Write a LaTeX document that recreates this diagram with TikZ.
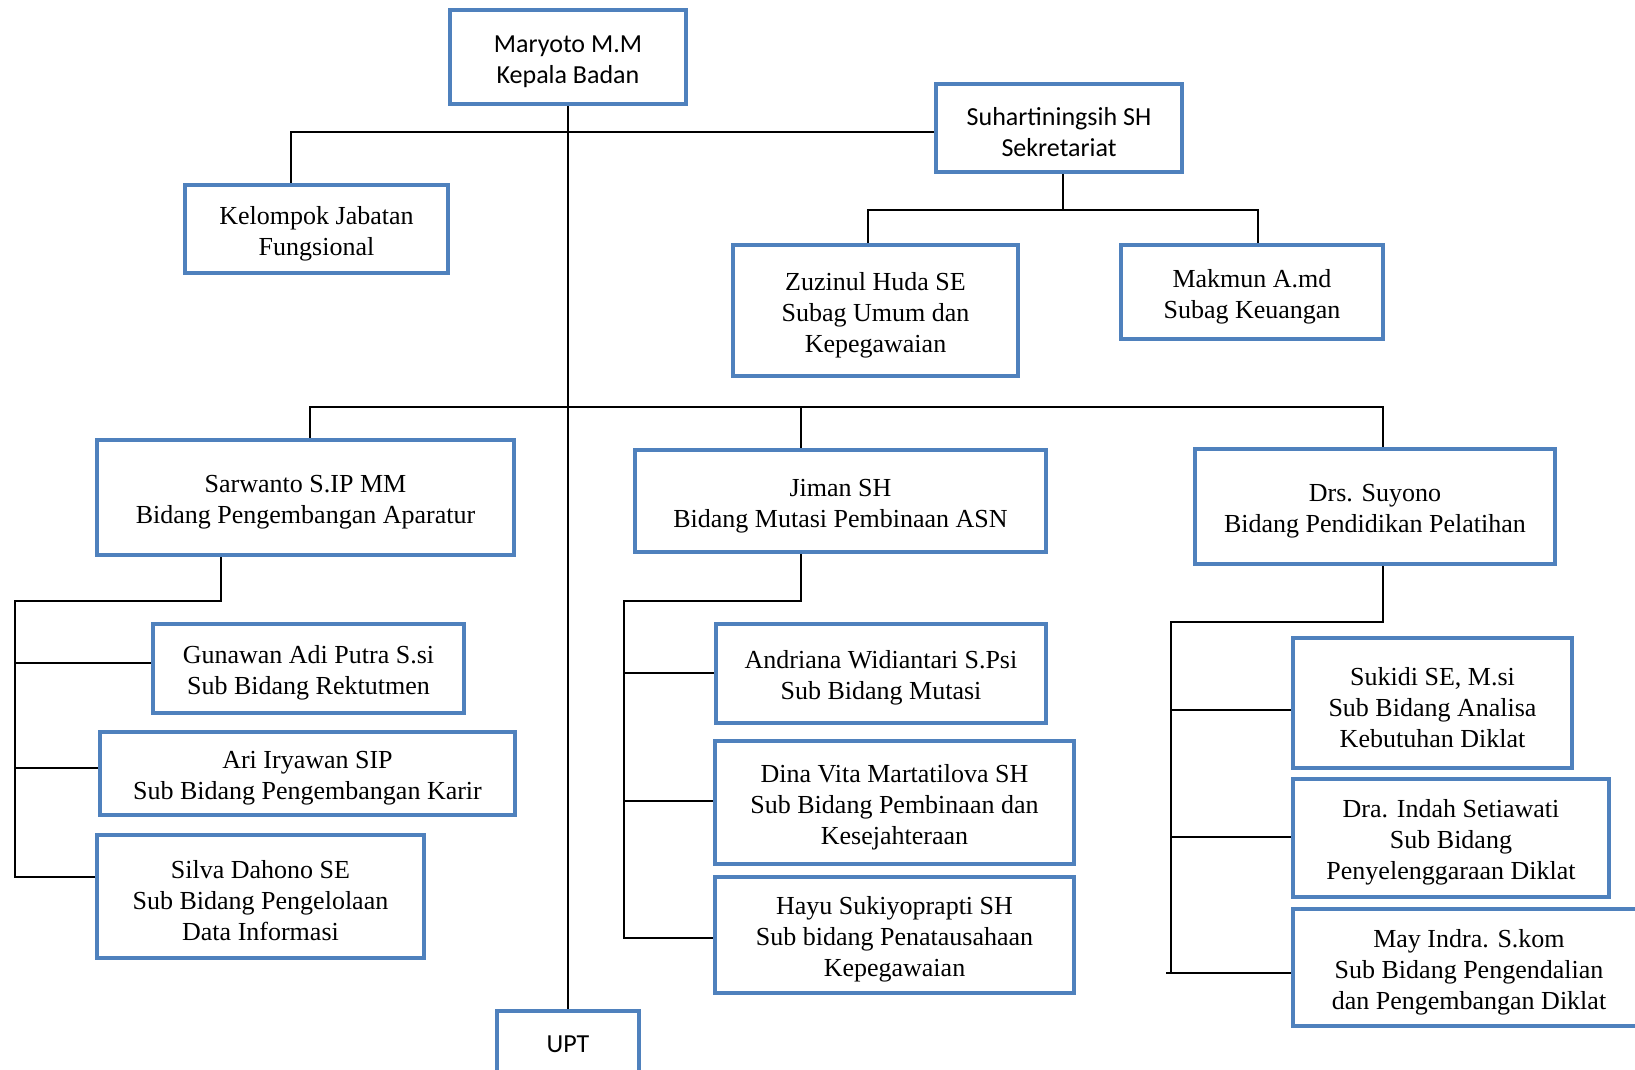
\documentclass[tikz,border=0pt]{standalone}
\usepackage{fontspec}
\setmainfont{Liberation Serif}
\newfontfamily\carlito{Carlito}
\definecolor{boxblue}{HTML}{4F81BD}
\newcommand{\tstrut}{\rule{0pt}{27pt}}
\begin{document}
\begin{tikzpicture}[x=1pt,y=-1pt,
  box/.style={draw=boxblue, line width=4.8pt, fill=white, align=center, inner sep=0pt,
    font=\fontsize{26}{31}\selectfont},
  cbox/.style={box, font=\carlito\fontsize{26}{31}\selectfont},
  conn/.style={line width=2pt, black}]
\clip (0,0) rectangle (1635,1069);
\fill[white] (0,0) rectangle (1635,1069);
% boxes
\node[cbox, minimum width=236pt, minimum height=94pt] (kepala) at (568,57) {\tstrut Maryoto M.M\\Kepala Badan};
\node[box, minimum width=263pt, minimum height=88pt] (kel) at (316.5,229) {\tstrut Kelompok Jabatan\\Fungsional};
\node[cbox, minimum width=246pt, minimum height=88pt] (sek) at (1059,128) {\tstrut Suhartiningsih SH\\Sekretariat};
\node[box, minimum width=285pt, minimum height=131pt] (zuz) at (875.5,310.5) {\tstrut Zuzinul Huda SE\\Subag Umum dan\\Kepegawaian};
\node[box, minimum width=262pt, minimum height=94pt] (mak) at (1252,292) {\tstrut Makmun A.md\\Subag Keuangan};
\node[box, minimum width=417pt, minimum height=115pt] (sar) at (305.5,497.5) {\tstrut Sarwanto S.IP MM\\Bidang Pengembangan Aparatur};
\node[box, minimum width=411pt, minimum height=102pt] (jim) at (840.5,501) {\tstrut Jiman SH\\Bidang Mutasi Pembinaan ASN};
\node[box, minimum width=360pt, minimum height=115pt] (suy) at (1375,506.5) {\tstrut Drs. Suyono\\Bidang Pendidikan Pelatihan};
\node[box, minimum width=311pt, minimum height=89pt] (gun) at (308.5,668.5) {\tstrut Gunawan Adi Putra S.si\\Sub Bidang Rektutmen};
\node[box, minimum width=415pt, minimum height=83pt] (ari) at (307.5,773.5) {\tstrut Ari Iryawan SIP\\Sub Bidang Pengembangan Karir};
\node[box, minimum width=327pt, minimum height=123pt] (sil) at (260.5,896.5) {\tstrut Silva Dahono SE\\Sub Bidang Pengelolaan\\Data Informasi};
\node[box, minimum width=330pt, minimum height=99pt] (and) at (881,673.5) {\tstrut Andriana Widiantari S.Psi\\Sub Bidang Mutasi};
\node[box, minimum width=359pt, minimum height=123pt] (din) at (894.5,802.5) {\tstrut Dina Vita Martatilova SH\\Sub Bidang Pembinaan dan\\Kesejahteraan};
\node[box, minimum width=359pt, minimum height=116pt] (hay) at (894.5,935) {\tstrut Hayu Sukiyoprapti SH\\Sub bidang Penatausahaan\\Kepegawaian};
\node[box, minimum width=279pt, minimum height=130pt] (suk) at (1432.5,703) {\tstrut Sukidi SE, M.si\\Sub Bidang Analisa\\Kebutuhan Diklat};
\node[box, minimum width=316pt, minimum height=118pt] (ind) at (1451,838) {\tstrut Dra. Indah Setiawati\\Sub Bidang\\Penyelenggaraan Diklat};
\node[box, minimum width=352pt, minimum height=117pt] (may) at (1469,967.5) {\tstrut May Indra. S.kom\\Sub Bidang Pengendalian\\dan Pengembangan Diklat};
\node[cbox, minimum width=142pt, minimum height=74pt, text depth=0pt] (upt) at (568,1048) {\raisebox{8pt}{UPT}};
% coordinates
\coordinate (b1) at (291,132);
\coordinate (s1) at (1063,210);
\coordinate (zx) at (868,210);
\coordinate (mx) at (1258,210);
\coordinate (m1) at (310,407);
\coordinate (m2) at (801,407);
\coordinate (m3) at (1383,407);
\coordinate (a1) at (221,601);
\coordinate (a2) at (15,601);
\coordinate (a4) at (15,663);
\coordinate (a5) at (15,768);
\coordinate (a3) at (15,877);
\coordinate (j1) at (801,601);
\coordinate (j2) at (624,601);
\coordinate (j3) at (624,673);
\coordinate (j4) at (624,801);
\coordinate (j5) at (624,938);
\coordinate (y1) at (1383,622);
\coordinate (y2) at (1171,622);
\coordinate (y3) at (1171,710);
\coordinate (y4) at (1171,837);
\coordinate (y5) at (1171,973);
\coordinate (y6) at (1166,973);
% connectors
\draw[conn] (kepala.south) -- (upt.north);
\draw[conn] (kel.north -| b1) -- (b1) -- (b1 -| sek.west);
\draw[conn] (sek.south -| s1) -- (s1);
\draw[conn] (zuz.north -| zx) -- (zx) -- (mx) -- (mak.north -| mx);
\draw[conn] (sar.north -| m1) -- (m1) -- (m3) -- (suy.north -| m3);
\draw[conn] (m2) -- (jim.north -| m2);
\draw[conn] (sar.south -| a1) -- (a1) -- (a2) -- (a3) -- (a3 -| sil.west);
\draw[conn] (a4) -- (a4 -| gun.west);
\draw[conn] (a5) -- (a5 -| ari.west);
\draw[conn] (jim.south -| j1) -- (j1) -- (j2) -- (j5) -- (j5 -| hay.west);
\draw[conn] (j3) -- (j3 -| and.west);
\draw[conn] (j4) -- (j4 -| din.west);
\draw[conn] (suy.south -| y1) -- (y1) -- (y2) -- (y5);
\draw[conn] (y6) -- (y6 -| may.west);
\draw[conn] (y3) -- (y3 -| suk.west);
\draw[conn] (y4) -- (y4 -| ind.west);
\end{tikzpicture}
\end{document}
